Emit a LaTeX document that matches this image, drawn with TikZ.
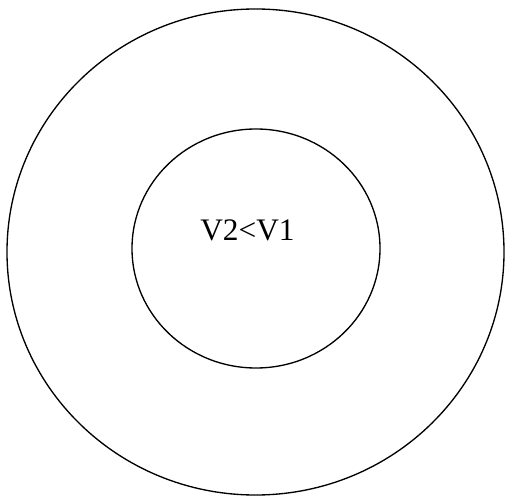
\documentclass[tikz,border=0pt]{standalone}
\usepackage{fontspec}
\setmainfont{Liberation Serif}
\usetikzlibrary{positioning}
\tikzset{
  ring/.style={draw=black,line width=1pt},
  cond/.style={font=\fontsize{23.5}{28}\selectfont,inner sep=0pt,anchor=base},
}
\begin{document}
\begin{tikzpicture}[x=0.75pt,y=0.75pt]
  \useasboundingbox (0,0) rectangle (505,496);
  \clip (0,0) rectangle (505,496);
  \draw[ring] (255.5,244) ellipse [x radius=248.5,y radius=243];
  \draw[ring] (256,247.5) ellipse [x radius=124,y radius=119.5];
  \node[cond] (v) at (247.5,255) {V2<V1};
\end{tikzpicture}
\end{document}
